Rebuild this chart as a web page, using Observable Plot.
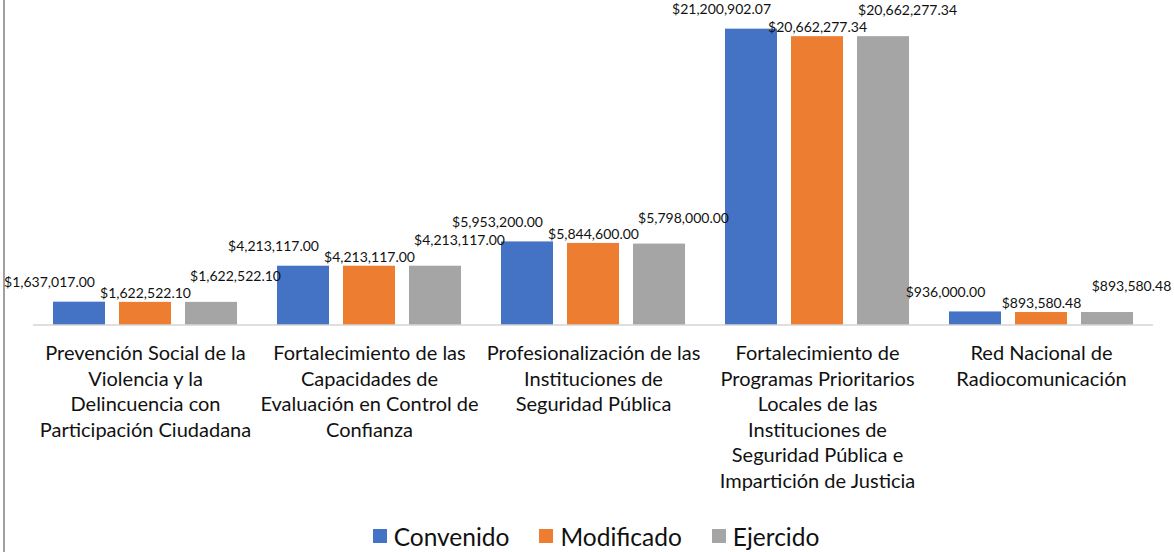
<!DOCTYPE html>
<html>
<head>
<meta charset="utf-8">
<script src="https://cdn.jsdelivr.net/npm/d3@7"></script>
<script src="https://cdn.jsdelivr.net/npm/@observablehq/plot@0.6"></script>
<style>
  html, body { margin: 0; padding: 0; background: #fff; }
  body { width: 1174px; height: 552px; overflow: hidden; position: relative; font-family: Lato, "Open Sans", sans-serif; }
  #frame { position: absolute; left: 3px; top: 0; width: 2px; height: 552px; background: #a0a0a0; }
  #chart { position: absolute; left: 0; top: 0; }
  #legend { position: absolute; left: 0; top: 516px; width: 1174px; height: 40px; padding-left: 18px; box-sizing: border-box; display: flex; justify-content: center; align-items: center; font-size: 24.5px; color: #111; }
  .item { display: flex; align-items: center; margin: 0 15px; }
  .sw { width: 14px; height: 14px; margin-right: 7px; }
</style>
</head>
<body>
<div id="frame"></div>
<div id="chart"></div>
<div id="legend"></div>
<script>
const categories = [
  "Prevención Social de la Violencia y la Delincuencia con Participación Ciudadana",
  "Fortalecimiento de las Capacidades de Evaluación en Control de Confianza",
  "Profesionalización de las Instituciones de Seguridad Pública",
  "Fortalecimiento de Programas Prioritarios Locales de las Instituciones de Seguridad Pública e Impartición de Justicia",
  "Red Nacional de Radiocomunicación"
];
const categoryTickLabels = [
  "Prevención Social de la\nViolencia y la\nDelincuencia con\nParticipación Ciudadana",
  "Fortalecimiento de las\nCapacidades de\nEvaluación en Control de\nConfianza",
  "Profesionalización de las\nInstituciones de\nSeguridad Pública",
  "Fortalecimiento de\nProgramas Prioritarios\nLocales de las\nInstituciones de\nSeguridad Pública e\nImpartición de Justicia",
  "Red Nacional de\nRadiocomunicación"
];
const series = ["Convenido", "Modificado", "Ejercido"];
const convenido = [1637017.00, 4213117.00, 5953200.00, 21200902.07, 936000.00];
const modificado = [1622522.10, 4213117.00, 5844600.00, 20662277.34, 893580.48];
const ejercido = [1622522.10, 4213117.00, 5798000.00, 20662277.34, 893580.48];
const colors = ["#4472C4", "#ED7D31", "#A5A5A5"];

const valuesBySeries = [convenido, modificado, ejercido];
const data = [];
categories.forEach((c, i) => {
  series.forEach((s, j) => data.push({category: c, series: s, value: valuesBySeries[j][i]}));
});
const labelOf = new Map(categories.map((c, i) => [c, categoryTickLabels[i]]));
const fmt = v => "$" + d3.format(",.2f")(v);

const labelOffsets = {
  Convenido: {dx: -30, dy: -19.5},
  Modificado: {dx: 0, dy: -9},
  Ejercido: {dx: 24, dy: -26}
};

const W = 1174, H = 510;
const chart = Plot.plot({
  width: W,
  height: H,
  marginLeft: 33,
  marginRight: 21,
  marginTop: 17.5,
  marginBottom: H - 324.5,
  style: {fontFamily: "Lato, 'Open Sans', sans-serif", background: "transparent"},
  fx: {domain: categories, padding: 0, label: null},
  x: {domain: series, paddingInner: 14 / 66, paddingOuter: 20 / 66, axis: null},
  y: {domain: [0, 22000000], axis: null},
  color: {domain: series, range: colors},
  marks: [
    Plot.barY(data, {fx: "category", x: "series", y: "value", fill: "series"}),
    Plot.ruleY([0], {stroke: "#bfbfbf", strokeWidth: 1.2}),
    ...series.map(s => Plot.text(data.filter(d => d.series === s), {
      fx: "category", x: "series", y: "value", text: d => fmt(d.value),
      dx: labelOffsets[s].dx, dy: labelOffsets[s].dy,
      lineAnchor: "middle", fontSize: 14, fill: "#111"
    })),
    Plot.axisFx({
      anchor: "bottom", tickSize: 0, tickPadding: 17, label: null,
      tickFormat: c => labelOf.get(c), fontSize: 20, lineHeight: 1.275, fill: "#111"
    })
  ]
});
document.getElementById("chart").appendChild(chart);

const legend = document.getElementById("legend");
series.forEach((s, i) => {
  const item = document.createElement("div");
  item.className = "item";
  const sw = document.createElement("div");
  sw.className = "sw";
  sw.style.background = colors[i];
  const t = document.createElement("span");
  t.textContent = s;
  item.appendChild(sw);
  item.appendChild(t);
  legend.appendChild(item);
});
</script>
</body>
</html>
